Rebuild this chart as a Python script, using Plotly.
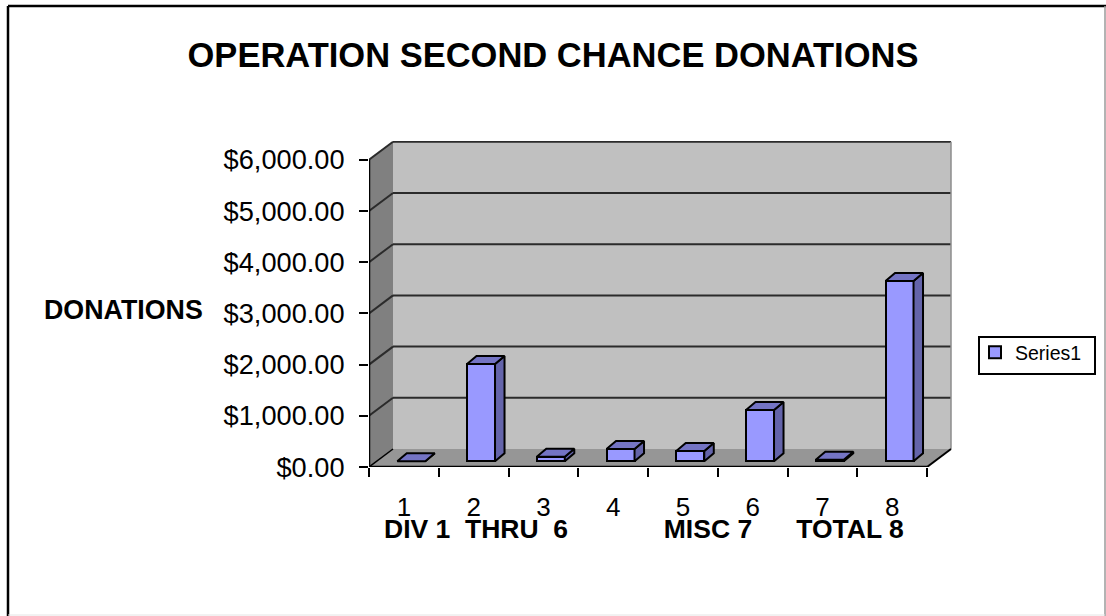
import plotly.graph_objects as go

FONT = "Liberation Sans, Arial, sans-serif"
categories = [1, 2, 3, 4, 5, 6, 7, 8]
values = [0, 1900, 90, 240, 200, 1000, 30, 3520]
y_ticks = [0, 1000, 2000, 3000, 4000, 5000, 6000]
y_labels = ["$0.00", "$1,000.00", "$2,000.00", "$3,000.00", "$4,000.00", "$5,000.00", "$6,000.00"]
title = "OPERATION SECOND CHANCE DONATIONS"
y_title = "DONATIONS"
x_title = "DIV 1\u00a0\u00a0THRU\u00a0\u00a06" + "\u00a0" * 13 + "MISC 7" + "\u00a0" * 6 + "TOTAL 8"
series = "Series1"

W, H = 1106, 616
L, R, T, B = 369, 952, 141, 467
X_PX = 69.75
Y_PX = 0.0512
xmin = 0.5
xfront = 8.5
xr = (xmin, xmin + (R - L) / X_PX)
yr = (0, (B - T) / Y_PX)
DX = 24 / X_PX
DY = 18 / Y_PX

BAR_W = 28 / X_PX
BAR_OFF = 7.4 / X_PX
BAR_BASE = 5.7 / Y_PX
BDX = 9.5 / X_PX
BDY = 8 / Y_PX


def px(x):
    return (x - L) / (R - L)


def py(y):
    return (B - y) / (B - T)


def path(points):
    return "M " + " L ".join(f"{a} {b}" for a, b in points) + " Z"


shapes = []
# walls and floor
shapes.append(dict(type="path", xref="x", yref="y", layer="below", line=dict(width=0), fillcolor="#C0C0C0",
                   path=path([(xmin + DX, DY), (xfront + DX, DY), (xfront + DX, 6000 + DY), (xmin + DX, 6000 + DY)])))
shapes.append(dict(type="path", xref="x", yref="y", layer="below", line=dict(width=0), fillcolor="#808080",
                   path=path([(xmin, 0), (xmin + DX, DY), (xmin + DX, 6000 + DY), (xmin, 6000)])))
shapes.append(dict(type="path", xref="x", yref="y", layer="below", line=dict(width=0), fillcolor="#969696",
                   path=path([(xmin, 0), (xfront, 0), (xfront + DX, DY), (xmin + DX, DY)])))
# gridlines
for v in y_ticks[1:]:
    shapes.append(dict(type="line", xref="x", yref="y", layer="below", line=dict(color="#2b2b2b", width=2),
                       x0=xmin, y0=v, x1=xmin + DX, y1=v + DY))
    shapes.append(dict(type="line", xref="x", yref="y", layer="below", line=dict(color="#2b2b2b", width=2),
                       x0=xmin + DX, y0=v + DY, x1=xfront + DX, y1=v + DY))
# right edge of back wall and floor edges
shapes.append(dict(type="line", xref="x", yref="y", layer="below", line=dict(color="#8c8c8c", width=1.5),
                   x0=xfront + DX, y0=DY, x1=xfront + DX, y1=6000 + DY))
shapes.append(dict(type="line", xref="x", yref="y", layer="below", line=dict(color="#000000", width=2),
                   x0=xfront, y0=0, x1=xfront + DX, y1=DY))
shapes.append(dict(type="line", xref="x", yref="y", layer="below", line=dict(color="#000000", width=1.5),
                   x0=xmin, y0=0, x1=xmin + DX, y1=DY))
# front axis lines
shapes.append(dict(type="line", xref="x", yref="y", layer="below", line=dict(color="#000000", width=2.5),
                   x0=xmin, y0=0, x1=xmin, y1=6000))
shapes.append(dict(type="line", xref="x", yref="y", layer="below", line=dict(color="#000000", width=2.5),
                   x0=xmin, y0=0, x1=xfront, y1=0))
# outer frame
shapes.append(dict(type="line", xref="paper", yref="paper", line=dict(color="#000000", width=2.5),
                   x0=px(8), y0=py(6), x1=px(1106), y1=py(6)))
shapes.append(dict(type="line", xref="paper", yref="paper", line=dict(color="#000000", width=2.5),
                   x0=px(8), y0=py(6), x1=px(8), y1=py(616)))
shapes.append(dict(type="line", xref="paper", yref="paper", line=dict(color="#9a9a9a", width=1.5),
                   x0=px(1105), y0=py(6), x1=px(1105), y1=py(616)))
shapes.append(dict(type="line", xref="paper", yref="paper", line=dict(color="#e4e4e4", width=1),
                   x0=px(8), y0=py(615), x1=px(1105), y1=py(615)))
# legend box
shapes.append(dict(type="rect", xref="paper", yref="paper", line=dict(color="#000000", width=2),
                   fillcolor="#FFFFFF", x0=px(979), y0=py(337), x1=px(1095), y1=py(374)))

bar_x = [c + BAR_OFF for c in categories]
side_x, side_y, top_x, top_y = [], [], [], []
for cx, v in zip(bar_x, values):
    x0, x1 = cx - BAR_W / 2, cx + BAR_W / 2
    b, t = BAR_BASE, BAR_BASE + v
    side_x += [x1, x1 + BDX, x1 + BDX, x1, x1, None]
    side_y += [b, b + BDY, t + BDY, t, b, None]
    top_x += [x0, x1, x1 + BDX, x0 + BDX, x0, None]
    top_y += [t, t, t + BDY, t + BDY, t, None]

fig = go.Figure()
fig.add_trace(go.Bar(x=bar_x, y=values, base=BAR_BASE, width=BAR_W, name=series,
                     marker=dict(color="#9999FF", line=dict(color="#000000", width=2)),
                     showlegend=True, hoverinfo="skip"))
fig.add_trace(go.Scatter(x=side_x, y=side_y, mode="lines", fill="toself", fillcolor="#6464AA",
                         line=dict(color="#000000", width=2), showlegend=False, hoverinfo="skip"))
fig.add_trace(go.Scatter(x=top_x, y=top_y, mode="lines", fill="toself", fillcolor="#7474C4",
                         line=dict(color="#000000", width=2), showlegend=False, hoverinfo="skip"))

fig.update_layout(
    width=W, height=H, autosize=False,
    margin=dict(l=L, r=W - R, t=T, b=H - B),
    paper_bgcolor="#FFFFFF", plot_bgcolor="rgba(0,0,0,0)",
    font=dict(family=FONT, color="#000000"),
    title=dict(text=f"<b>{title}</b>", x=0.5, xanchor="center", y=1 - 55 / H, yanchor="middle",
               font=dict(size=34.5, family=FONT)),
    shapes=shapes,
    bargap=0,
    legend=dict(x=px(975), y=py(333), xanchor="left", yanchor="top", bgcolor="rgba(0,0,0,0)",
                borderwidth=0, font=dict(size=19.5, family=FONT), itemwidth=30),
    annotations=[
        dict(text=f"<b>{y_title}</b>", xref="paper", yref="paper", x=px(123.5), y=py(310),
             xanchor="center", yanchor="middle", showarrow=False, font=dict(size=26.8, family=FONT)),
        dict(text=f"<b>{x_title}</b>", xref="paper", yref="paper", x=px(382), y=py(529),
             xanchor="left", yanchor="middle", showarrow=False, font=dict(size=26.5, family=FONT)),
    ],
    xaxis=dict(range=list(xr), tickmode="array", tickvals=categories, ticktext=[str(c) for c in categories],
               ticks="", showgrid=False, zeroline=False, showline=False, fixedrange=True,
               tickfont=dict(size=26, family=FONT), ticklabelstandoff=22,
               minor=dict(tickmode="array", tickvals=[c - 0.5 for c in categories] + [categories[-1] + 0.5],
                          ticks="outside", ticklen=9, tickwidth=2, tickcolor="#000000", showgrid=False)),
    yaxis=dict(range=list(yr), tickmode="array", tickvals=y_ticks, ticktext=y_labels, ticks="outside",
               ticklen=9, tickwidth=2, tickcolor="#000000", showgrid=False, zeroline=False, showline=False,
               fixedrange=True, tickfont=dict(size=27.2, family=FONT), ticklabelstandoff=9),
)

fig.write_html("out.html", config={"displayModeBar": False},
               post_script="document.body.style.margin='0';document.body.style.overflow='hidden';")
